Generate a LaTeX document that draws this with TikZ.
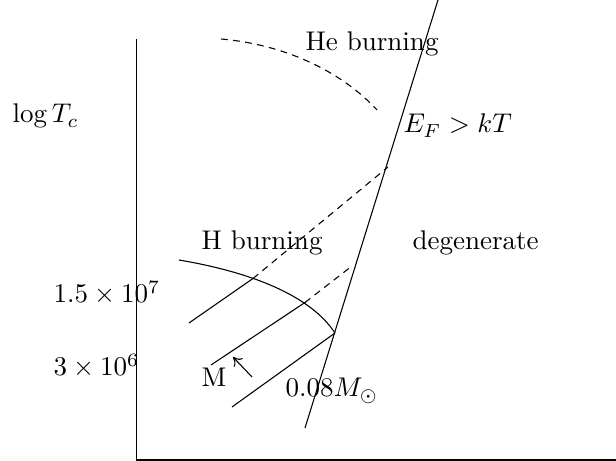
\documentclass[tikz,border=0pt]{standalone}
\usetikzlibrary{arrows.meta}
\begin{document}
\begin{tikzpicture}[x=0.37pt,y=-0.37pt,
  lbl/.style={inner sep=0pt,anchor=base west},
  dsh/.style={dash pattern=on 2.5pt off 2pt},
  ln/.style={line width=0.4pt}]
\useasboundingbox (0,0) rectangle (616,461);
% axes
\coordinate (ytop) at (136.5,39);
\coordinate (orig) at (136.5,460);
\coordinate (xend) at (616,460);
\draw[ln] (ytop) -- (orig) -- (xend);
% degeneracy boundary
\coordinate (db) at (305,428);
\coordinate (dt) at (438,0);
\draw[ln] (db) -- (dt);
% He burning curve
\coordinate (h0) at (221,39);
\coordinate (h1) at (377,110);
\draw[ln,dsh] (h0) .. controls (290,45) and (345,75) .. (h1);
% H burning curve
\coordinate (k0) at (179,260);
\coordinate (c1) at (253,278.5);
\coordinate (c2) at (305,302.5);
\coordinate (c3) at (335,333);
\draw[ln] (k0) .. controls (250,272) and (310,295) .. (c3);
% tracks
\coordinate (a0) at (189,323);
\coordinate (a1) at (388,167);
\draw[ln] (a0) -- (c1);
\draw[ln,dsh] (c1) -- (a1);
\coordinate (b0) at (211,365);
\coordinate (b1) at (352,266);
\draw[ln] (b0) -- (c2);
\draw[ln,dsh] (c2) -- (b1);
\coordinate (e0) at (232,407);
\draw[ln] (e0) -- (c3);
% arrow
\coordinate (m0) at (252,377);
\coordinate (m1) at (233,357);
\draw[ln,-{To[length=3pt,width=4.5pt]}] (m0) -- (m1);
% labels
\node[lbl] (he) at (305,51) {He burning};
\node[lbl] (ef) at (403,133) {$E_F > kT$};
\node[lbl] (lt) at (12,123) {$\log T_c$};
\node[lbl] (hb) at (201,250) {H burning};
\node[lbl] (dg) at (412,250) {degenerate};
\node[lbl] (t1) at (53,303) {$1.5\times10^7$};
\node[lbl] (t2) at (53,376) {$3\times10^6$};
\node[lbl] (mm) at (201,387) {M};
\node[lbl] (ms) at (285,397) {$0.08M_\odot$};
\end{tikzpicture}
\end{document}
